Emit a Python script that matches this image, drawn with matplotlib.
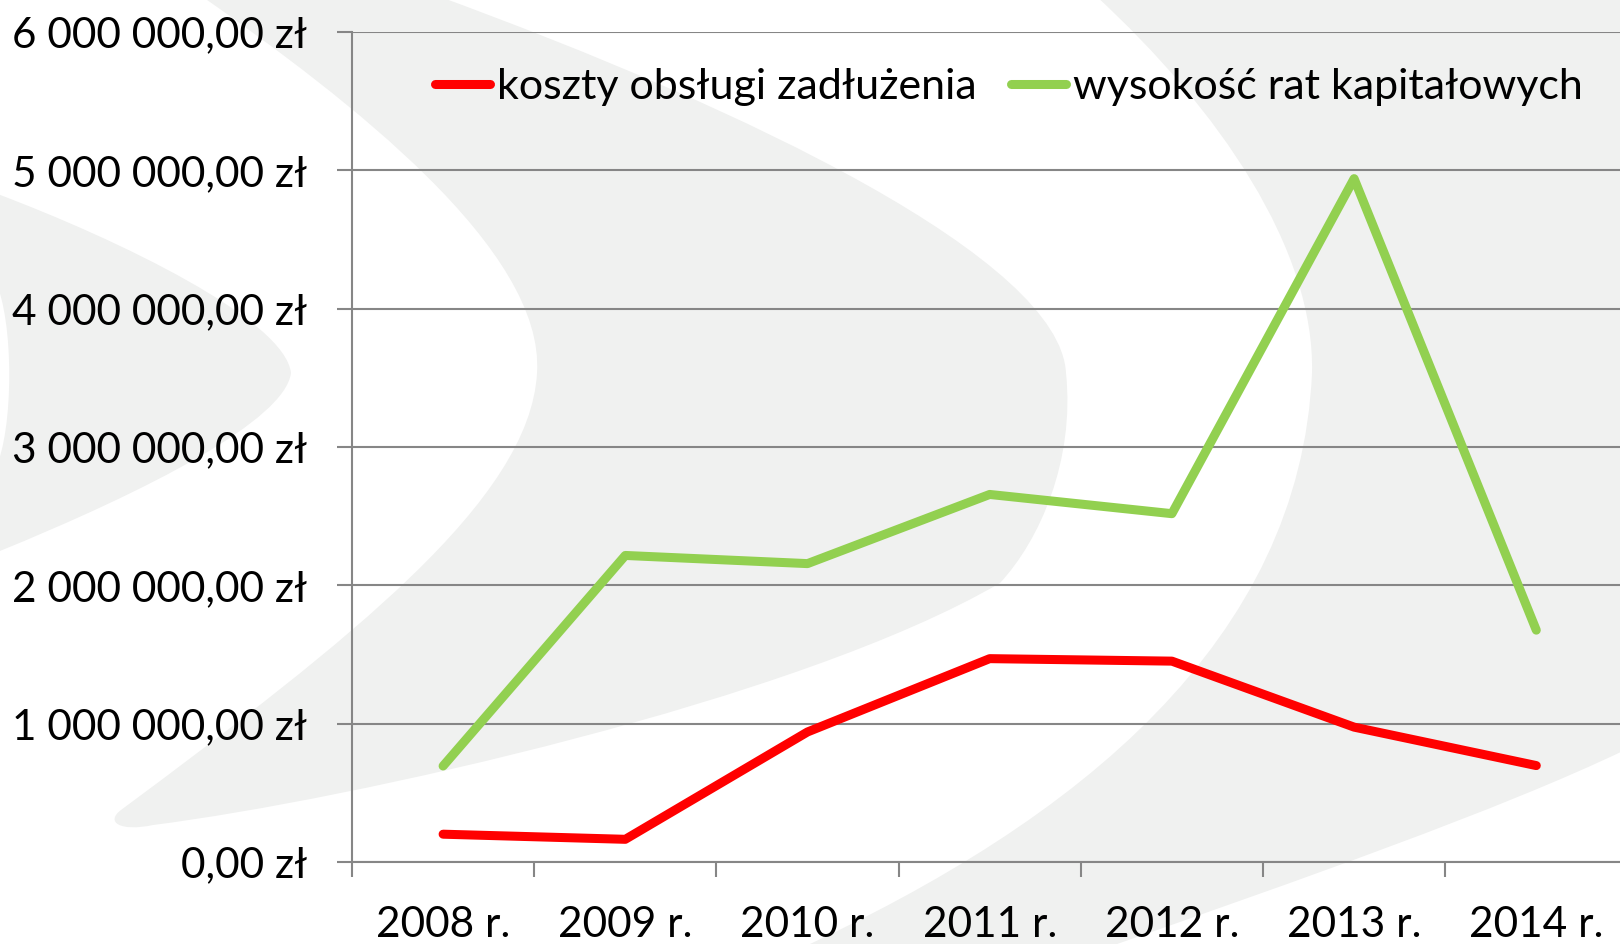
# -*- coding: utf-8 -*-
"""
Koszty obsługi zadłużenia i raty kapitałowe 2008-2014
"""

import numpy as np
import matplotlib
matplotlib.use('Agg')
import matplotlib.pyplot as plt
from matplotlib.path import Path
from matplotlib.patches import PathPatch
from matplotlib.ticker import FuncFormatter, MultipleLocator, FixedLocator

plt.rcParams['font.family'] = ['Lato', 'DejaVu Sans']

# dane (zł)
lata = ['2008 r.', '2009 r.', '2010 r.', '2011 r.', '2012 r.', '2013 r.', '2014 r.']
koszty = [201000, 164000, 940000, 1470000, 1452000, 975000, 697000]
raty = [694000, 2216000, 2157000, 2657000, 2518000, 4940000, 1676000]

W, H = 1620, 944
SZARY_TLO = '#f0f1f0'
SZARY_OS = '#868686'


def px(pts):
    # piksele obrazu (y w dół) -> ułamek figury
    return [(x / W, 1 - y / H) for x, y in pts]


def ksztalt(fig, pts, codes):
    p = Path(px(pts), codes)
    fig.patches.append(PathPatch(p, facecolor=SZARY_TLO, edgecolor='none',
                                 transform=fig.transFigure, zorder=-10))


fig = plt.figure(figsize=(W / 100, H / 100), dpi=100)

# ============================================================
# dekoracyjne tło (szare łuki)
# ============================================================
M, L, C4, CL = Path.MOVETO, Path.LINETO, Path.CURVE4, Path.CLOSEPOLY

# środkowy półksiężyc
ksztalt(fig,
        [(200, -5), (435, -5),
         (750, 110), (1060, 260), (1066, 373),
         (1075, 460), (1040, 540), (1000, 583),
         (800, 700), (350, 800), (153, 825),
         (120, 832), (105, 822), (121, 810),
         (350, 640), (530, 500), (537, 373),
         (545, 250), (350, 100), (200, -5),
         (200, -5)],
        [M, L, C4, C4, C4, C4, C4, C4, C4, C4, C4, C4, C4, C4,
         C4, C4, C4, C4, C4, C4, CL])

# lewy łuk
ksztalt(fig,
        [(-5, 193),
         (120, 240), (285, 320), (291, 373),
         (285, 420), (150, 490), (-5, 553),
         (-5, 470),
         (14, 430), (14, 320), (-5, 280),
         (-5, 193)],
        [M, C4, C4, C4, C4, C4, C4, L, C4, C4, C4, CL])

# prawy duży obszar
ksztalt(fig,
        [(1095, -5),
         (1220, 110), (1315, 250), (1312, 373),
         (1300, 640), (1080, 820), (797, 950),
         (1100, 950),
         (1300, 880), (1500, 810), (1625, 750),
         (1625, -5),
         (1095, -5)],
        [M, C4, C4, C4, C4, C4, C4, L, C4, C4, C4, L, CL])

# ============================================================
# wykres
# ============================================================
ax = fig.add_axes([352 / W, 1 - 862 / H, 7 * 182.2 / W, 830 / H])
ax.set_facecolor('none')

x = np.arange(len(lata))
ax.plot(x, koszty, color='#ff0000', linewidth=6.5, solid_capstyle='round',
        solid_joinstyle='round', label='koszty obsługi zadłużenia', zorder=3)
ax.plot(x, raty, color='#92d050', linewidth=6.5, solid_capstyle='round',
        solid_joinstyle='round', label='wysokość rat kapitałowych', zorder=3)

ax.set_xlim(-0.5, len(lata) - 0.5)
ax.set_ylim(0, 6000000)

ax.yaxis.set_major_locator(MultipleLocator(1000000))
ax.yaxis.set_major_formatter(FuncFormatter(
    lambda v, p: f'{v:,.2f}'.replace(',', ' ').replace('.', ',') + ' zł'))
ax.grid(True, axis='y', color=SZARY_OS, linewidth=1.5)
ax.set_axisbelow(True)

ax.set_xticks(x)
ax.set_xticklabels(lata)
ax.xaxis.set_minor_locator(FixedLocator(np.arange(-0.5, len(lata), 1)))

for s in ['top', 'right']:
    ax.spines[s].set_visible(False)
for s in ['left', 'bottom']:
    ax.spines[s].set_color(SZARY_OS)
    ax.spines[s].set_linewidth(1.5)

ax.tick_params(axis='y', length=10.5, width=1.5, color=SZARY_OS, pad=22,
               labelsize=30.5)
ax.tick_params(axis='x', which='major', length=0, pad=32, labelsize=30.5)
ax.tick_params(axis='x', which='minor', length=10.5, width=1.5, color=SZARY_OS)

ax.legend(loc='center', bbox_to_anchor=(1009 / W, 1 - 87 / H),
          bbox_transform=fig.transFigure, ncol=2, frameon=False, fontsize=31,
          handlelength=1.28, handletextpad=0.16, columnspacing=0.8)

plt.savefig('out.png', dpi=100)
plt.close()
